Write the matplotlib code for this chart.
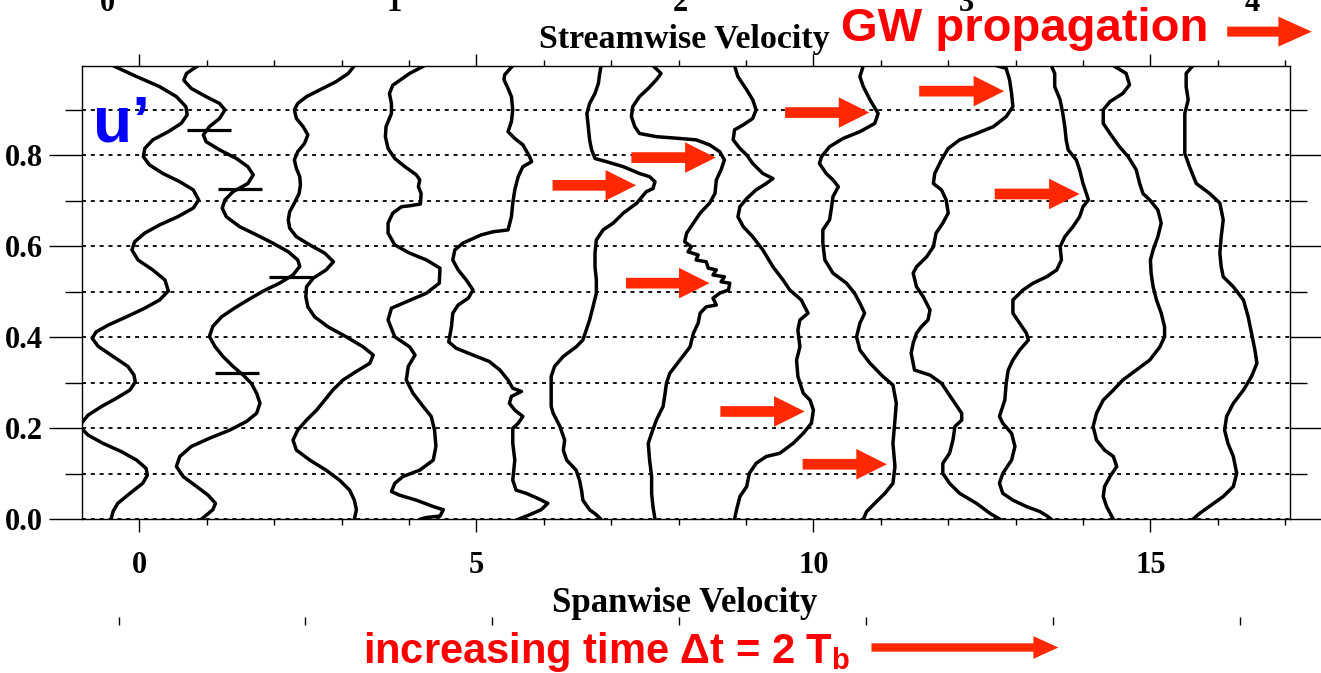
import numpy as np
import matplotlib
matplotlib.use("Agg")
import matplotlib.pyplot as plt
from matplotlib.ticker import MultipleLocator, FormatStrFormatter

plt.rcParams['font.family'] = ['Liberation Serif', 'DejaVu Serif']
plt.rcParams['font.weight'] = 'bold'
plt.rcParams['axes.labelweight'] = 'bold'
plt.rcParams['mathtext.fontset'] = 'custom'
plt.rcParams['mathtext.rm'] = 'Liberation Sans:bold'

# u' profiles, spanwise position vs height, one per output time
p1_x = [-0.39, -0.04, 0.30, 0.55, 0.69, 0.71, 0.62, 0.43, 0.20, 0.08, 0.06, 0.15, 0.35, 0.60, 0.80, 0.88, 0.80, 0.57,
        0.30, 0.08, -0.07, -0.11, -0.02, 0.20, 0.38, 0.43, 0.30, 0.08, -0.19, -0.46, -0.64, -0.70, -0.61, -0.39, -0.17,
        -0.08, -0.06, -0.14, -0.34, -0.56, -0.76, -0.86, -0.86, -0.76, -0.54, -0.27, -0.04, 0.10, 0.12, 0.05, -0.14,
        -0.32, -0.39, -0.42]
p1_y = [0.997, 0.973, 0.951, 0.929, 0.907, 0.889, 0.870, 0.852, 0.834, 0.815, 0.797, 0.779, 0.760, 0.742, 0.724, 0.702,
        0.684, 0.665, 0.647, 0.629, 0.610, 0.592, 0.570, 0.548, 0.526, 0.502, 0.482, 0.464, 0.445, 0.427, 0.412, 0.398,
        0.380, 0.358, 0.336, 0.317, 0.302, 0.284, 0.266, 0.248, 0.229, 0.211, 0.200, 0.185, 0.167, 0.149, 0.130, 0.112,
        0.097, 0.079, 0.057, 0.035, 0.017, 0.0]

p2_x = [0.87, 0.70, 0.66, 0.77, 0.99, 1.19, 1.27, 1.19, 1.04, 0.95, 0.99, 1.19, 1.44, 1.61, 1.69, 1.61, 1.39, 1.27,
        1.23, 1.29, 1.49, 1.74, 1.98, 2.21, 2.35, 2.38, 2.28, 2.08, 1.83, 1.61, 1.41, 1.22, 1.09, 1.04, 1.12, 1.24,
        1.39, 1.54, 1.66, 1.74, 1.79, 1.74, 1.59, 1.34, 1.04, 0.77, 0.60, 0.55, 0.65, 0.85, 1.02, 1.13, 1.09, 0.92]
p2_y = [0.997, 0.980, 0.965, 0.947, 0.929, 0.914, 0.900, 0.881, 0.863, 0.845, 0.830, 0.812, 0.793, 0.775, 0.757, 0.738,
        0.720, 0.702, 0.684, 0.665, 0.643, 0.625, 0.607, 0.588, 0.570, 0.556, 0.537, 0.519, 0.501, 0.482, 0.464, 0.445,
        0.424, 0.402, 0.380, 0.358, 0.336, 0.317, 0.299, 0.277, 0.255, 0.233, 0.215, 0.196, 0.178, 0.160, 0.138, 0.116,
        0.094, 0.072, 0.053, 0.035, 0.021, 0.0]

p3_x = [3.19, 3.10, 2.92, 2.68, 2.48, 2.35, 2.30, 2.33, 2.43, 2.50, 2.45, 2.35, 2.30, 2.33, 2.38, 2.39, 2.37, 2.30,
        2.23, 2.21, 2.23, 2.33, 2.53, 2.75, 2.88, 2.77, 2.58, 2.48, 2.47, 2.50, 2.60, 2.80, 3.07, 3.32, 3.47, 3.42,
        3.22, 3.02, 2.87, 2.75, 2.63, 2.48, 2.35, 2.28, 2.33, 2.53, 2.77, 2.97, 3.12, 3.19, 3.22, 3.19]
p3_y = [0.997, 0.980, 0.962, 0.944, 0.929, 0.914, 0.900, 0.881, 0.863, 0.845, 0.826, 0.808, 0.790, 0.771, 0.753, 0.735,
        0.716, 0.695, 0.676, 0.658, 0.640, 0.621, 0.603, 0.585, 0.566, 0.548, 0.530, 0.511, 0.489, 0.467, 0.445, 0.423,
        0.401, 0.379, 0.361, 0.343, 0.325, 0.306, 0.284, 0.262, 0.240, 0.218, 0.196, 0.174, 0.152, 0.130, 0.108, 0.086,
        0.064, 0.042, 0.021, 0.0]

p4_x = [4.23, 4.01, 3.76, 3.71, 3.74, 3.74, 3.66, 3.65, 3.69, 3.79, 3.94, 4.11, 4.16, 4.14, 4.18, 4.17, 4.01, 3.89,
        3.76, 3.69, 3.69, 3.79, 4.01, 4.26, 4.46, 4.45, 4.26, 3.96, 3.74, 3.69, 3.79, 4.01, 4.09, 3.99, 3.96, 4.06,
        4.21, 4.33, 4.38, 4.40, 4.36, 4.16, 3.91, 3.79, 3.74, 3.86, 4.11, 4.36, 4.51, 4.46, 4.26, 4.16]
p4_y = [0.997, 0.980, 0.954, 0.936, 0.914, 0.892, 0.863, 0.841, 0.815, 0.793, 0.775, 0.757, 0.746, 0.731, 0.716, 0.693,
        0.689, 0.687, 0.673, 0.651, 0.629, 0.603, 0.585, 0.570, 0.552, 0.519, 0.497, 0.478, 0.464, 0.438, 0.401, 0.379,
        0.361, 0.336, 0.306, 0.277, 0.248, 0.226, 0.196, 0.160, 0.130, 0.108, 0.094, 0.079, 0.061, 0.053, 0.042, 0.028,
        0.021, 0.007, 0.004, 0.0]

p5_x = [5.54, 5.42, 5.41, 5.47, 5.52, 5.54, 5.52, 5.47, 5.57, 5.69, 5.79, 5.82, 5.69, 5.62, 5.57, 5.54, 5.52, 5.47,
        5.25, 5.07, 4.80, 4.68, 4.65, 4.73, 4.85, 4.95, 4.88, 4.73, 4.65, 4.63, 4.59, 4.70, 4.95, 5.19, 5.35, 5.47,
        5.54, 5.67, 5.52, 5.49, 5.57, 5.69, 5.62, 5.54, 5.54, 5.57, 5.54, 5.59, 5.74, 5.91, 6.06, 5.96, 5.79, 5.62]
p5_y = [0.997, 0.977, 0.966, 0.947, 0.929, 0.900, 0.874, 0.852, 0.837, 0.823, 0.797, 0.786, 0.775, 0.753, 0.724, 0.695,
        0.665, 0.636, 0.632, 0.625, 0.607, 0.592, 0.570, 0.548, 0.526, 0.504, 0.486, 0.471, 0.453, 0.423, 0.390, 0.376,
        0.361, 0.347, 0.328, 0.306, 0.288, 0.281, 0.270, 0.255, 0.240, 0.226, 0.211, 0.200, 0.167, 0.130, 0.086, 0.064,
        0.057, 0.046, 0.035, 0.021, 0.010, 0.0]

p6_x = [6.85, 6.83, 6.81, 6.76, 6.68, 6.64, 6.66, 6.68, 6.71, 6.76, 6.93, 7.18, 7.42, 7.57, 7.65, 7.62, 7.52, 7.38,
        7.18, 7.03, 6.88, 6.78, 6.76, 6.76, 6.78, 6.78, 6.73, 6.68, 6.63, 6.58, 6.48, 6.29, 6.16, 6.11, 6.11, 6.11,
        6.14, 6.24, 6.31, 6.29, 6.34, 6.48, 6.53, 6.56, 6.58, 6.68, 6.78, 6.85]
p6_y = [0.997, 0.980, 0.958, 0.936, 0.914, 0.892, 0.863, 0.834, 0.812, 0.793, 0.786, 0.775, 0.760, 0.753, 0.742, 0.727,
        0.720, 0.695, 0.673, 0.651, 0.636, 0.614, 0.585, 0.555, 0.526, 0.497, 0.467, 0.438, 0.416, 0.394, 0.379, 0.358,
        0.336, 0.314, 0.284, 0.248, 0.233, 0.204, 0.174, 0.152, 0.130, 0.108, 0.086, 0.064, 0.042, 0.021, 0.010, 0.0]

p7_x = [7.62, 7.74, 7.67, 7.55, 7.42, 7.32, 7.30, 7.35, 7.42, 7.67, 8.02, 8.26, 8.46, 8.61, 8.68, 8.63, 8.56, 8.54,
        8.46, 8.32, 8.22, 8.12, 8.09, 8.19, 8.14, 8.29, 8.26, 8.41, 8.44, 8.56, 8.51, 8.68, 8.63, 8.76, 8.74, 8.61,
        8.51, 8.56, 8.41, 8.32, 8.29, 8.22, 8.17, 8.02, 7.87, 7.82, 7.80, 7.77, 7.67, 7.60, 7.55, 7.57, 7.60, 7.60,
        7.62, 7.65]
p7_y = [0.997, 0.980, 0.966, 0.947, 0.929, 0.907, 0.885, 0.863, 0.848, 0.841, 0.837, 0.834, 0.823, 0.808, 0.790, 0.768,
        0.746, 0.716, 0.695, 0.673, 0.651, 0.629, 0.610, 0.599, 0.588, 0.581, 0.570, 0.566, 0.552, 0.548, 0.537, 0.533,
        0.522, 0.519, 0.504, 0.497, 0.486, 0.471, 0.467, 0.453, 0.431, 0.409, 0.379, 0.350, 0.321, 0.299, 0.277, 0.248,
        0.218, 0.189, 0.167, 0.130, 0.094, 0.057, 0.028, 0.0]

p8_x = [8.83, 8.88, 9.01, 9.10, 9.15, 9.10, 8.96, 8.83, 8.81, 8.91, 9.01, 9.10, 9.25, 9.40, 9.30, 9.15, 9.01, 8.91,
        8.88, 8.96, 9.10, 9.25, 9.40, 9.55, 9.65, 9.82, 9.92, 9.80, 9.77, 9.80, 9.75, 9.77, 9.85, 9.95, 10.00, 9.97,
        9.85, 9.70, 9.50, 9.30, 9.15, 9.05, 9.01, 8.91, 8.86, 8.83]
p8_y = [0.997, 0.973, 0.944, 0.922, 0.900, 0.881, 0.867, 0.856, 0.834, 0.815, 0.801, 0.782, 0.760, 0.749, 0.738, 0.724,
        0.705, 0.687, 0.665, 0.643, 0.621, 0.592, 0.555, 0.526, 0.504, 0.482, 0.453, 0.438, 0.416, 0.379, 0.350, 0.314,
        0.277, 0.262, 0.240, 0.211, 0.189, 0.167, 0.145, 0.138, 0.123, 0.101, 0.072, 0.050, 0.021, 0.0]

p9_x = [10.74, 10.69, 10.74, 10.84, 10.96, 10.91, 10.69, 10.44, 10.24, 10.12, 10.09, 10.19, 10.29, 10.37, 10.29, 10.27,
        10.24, 10.14, 10.14, 10.17, 10.29, 10.49, 10.61, 10.69, 10.76, 10.69, 10.64, 10.69, 10.84, 11.03, 11.18, 11.23,
        11.21, 11.18, 11.21, 11.18, 11.06, 10.91, 10.79, 10.74]
p9_y = [0.997, 0.973, 0.951, 0.922, 0.892, 0.870, 0.852, 0.837, 0.819, 0.797, 0.782, 0.760, 0.746, 0.731, 0.709, 0.687,
        0.658, 0.636, 0.607, 0.570, 0.541, 0.519, 0.497, 0.475, 0.453, 0.431, 0.401, 0.372, 0.343, 0.314, 0.295, 0.255,
        0.218, 0.167, 0.116, 0.079, 0.057, 0.035, 0.017, 0.0]

p10_x = [12.72, 12.86, 12.91, 12.94, 12.96, 12.86, 12.67, 12.42, 12.17, 12.00, 11.90, 11.80, 11.78, 11.90, 11.97, 12.00,
         11.92, 11.82, 11.78, 11.68, 11.53, 11.48, 11.53, 11.63, 11.73, 11.70, 11.60, 11.53, 11.48, 11.45, 11.50, 11.73,
         11.90, 12.00, 12.10, 12.20, 12.20, 12.10, 12.07, 12.02, 11.92, 11.92, 12.02, 12.17, 12.42, 12.62, 12.77]
p10_y = [0.997, 0.991, 0.966, 0.936, 0.907, 0.885, 0.863, 0.848, 0.834, 0.815, 0.790, 0.760, 0.738, 0.724, 0.702, 0.673,
         0.651, 0.629, 0.599, 0.577, 0.555, 0.541, 0.511, 0.489, 0.460, 0.438, 0.423, 0.409, 0.387, 0.365, 0.328, 0.317,
         0.299, 0.277, 0.255, 0.233, 0.218, 0.204, 0.174, 0.145, 0.123, 0.101, 0.079, 0.057, 0.035, 0.013, 0.0]

p11_x = [13.53, 13.58, 13.58, 13.66, 13.70, 13.73, 13.75, 13.78, 13.90, 13.95, 14.00, 14.05, 14.08, 14.00, 13.95, 13.85,
         13.73, 13.66, 13.68, 13.61, 13.46, 13.26, 13.11, 12.96, 12.96, 13.06, 13.16, 13.19, 13.06, 12.96, 12.89, 12.86,
         12.84, 12.76, 12.81, 12.94, 12.99, 12.94, 12.81, 12.76, 12.81, 12.96, 13.16, 13.36, 13.48, 13.53]
p11_y = [0.997, 0.980, 0.951, 0.922, 0.892, 0.863, 0.834, 0.812, 0.790, 0.768, 0.738, 0.716, 0.702, 0.687, 0.665, 0.643,
         0.621, 0.599, 0.570, 0.548, 0.533, 0.519, 0.504, 0.482, 0.453, 0.431, 0.409, 0.394, 0.372, 0.350, 0.328, 0.299,
         0.262, 0.226, 0.211, 0.189, 0.160, 0.130, 0.101, 0.079, 0.057, 0.042, 0.028, 0.017, 0.006, 0.0]

p12_x = [14.45, 14.64, 14.69, 14.59, 14.40, 14.30, 14.30, 14.40, 14.54, 14.67, 14.79, 14.84, 14.89, 14.99, 15.11, 15.16,
         15.11, 15.04, 15.00, 15.01, 15.04, 15.09, 15.16, 15.21, 15.21, 15.14, 14.99, 14.79, 14.59, 14.45, 14.30, 14.20,
         14.15, 14.20, 14.32, 14.45, 14.50, 14.40, 14.32, 14.30, 14.35, 14.45]
p12_y = [0.997, 0.980, 0.955, 0.936, 0.918, 0.900, 0.870, 0.848, 0.819, 0.797, 0.768, 0.738, 0.716, 0.702, 0.680, 0.651,
         0.621, 0.592, 0.570, 0.541, 0.511, 0.482, 0.453, 0.423, 0.401, 0.379, 0.350, 0.328, 0.306, 0.284, 0.262, 0.233,
         0.204, 0.174, 0.152, 0.138, 0.116, 0.094, 0.072, 0.050, 0.028, 0.0]

p13_x = [15.63, 15.53, 15.53, 15.56, 15.51, 15.51, 15.51, 15.51, 15.58, 15.68, 15.88, 16.03, 16.08, 16.05, 16.03, 16.05,
         16.08, 16.23, 16.38, 16.45, 16.50, 16.55, 16.58, 16.50, 16.38, 16.23, 16.13, 16.10, 16.15, 16.23, 16.28, 16.23,
         16.08, 15.90, 15.73, 15.63]
p13_y = [0.997, 0.980, 0.951, 0.922, 0.892, 0.863, 0.834, 0.804, 0.775, 0.738, 0.716, 0.695, 0.658, 0.621, 0.585, 0.555,
         0.533, 0.511, 0.482, 0.445, 0.409, 0.372, 0.343, 0.314, 0.284, 0.255, 0.226, 0.196, 0.167, 0.138, 0.101, 0.072,
         0.050, 0.031, 0.013, 0.0]

# wavelength markers on the second profile
mark_y = [0.856, 0.725, 0.533, 0.321]
mark_x = [1.03, 1.49, 2.25, 1.45]

# red arrows pointing at the wave crests: tail x, tip x, height
crest_tail = [6.13, 7.30, 7.22, 9.58, 11.57, 12.69, 8.62, 9.84]
crest_tip = [7.37, 8.55, 8.46, 10.83, 12.83, 13.95, 9.87, 11.09]
crest_h = [0.734, 0.795, 0.519, 0.894, 0.941, 0.715, 0.237, 0.121]

span_ticks = [0, 5, 10, 15]
height_ticks = [0.0, 0.2, 0.4, 0.6, 0.8]
stream_ticks = [0, 1, 2, 3, 4]

profiles = [(p1_x, p1_y), (p2_x, p2_y), (p3_x, p3_y), (p4_x, p4_y), (p5_x, p5_y), (p6_x, p6_y), (p7_x, p7_y),
            (p8_x, p8_y), (p9_x, p9_y), (p10_x, p10_y), (p11_x, p11_y), (p12_x, p12_y), (p13_x, p13_y)]

ARROW_RED = '#ff2800'

fig = plt.figure(figsize=(13.21, 6.73), dpi=100)
ax = fig.add_axes([0.0618, 0.2284, 0.9147, 0.674])

for xs, ys in profiles:
    ax.plot(xs, ys, color='black', lw=2.5, solid_joinstyle='round', solid_capstyle='round', zorder=3)

mark_x = np.array(mark_x)
ax.hlines(mark_y, mark_x - 0.325, mark_x + 0.325, color='black', lw=2.3, zorder=3)

ax.set_xlim(-0.856, 17.07)
ax.set_ylim(0.0, 0.997)

ax.set_xticks(span_ticks)
ax.xaxis.set_minor_locator(MultipleLocator(1))
ax.set_yticks(height_ticks)
ax.yaxis.set_minor_locator(MultipleLocator(0.1))
ax.yaxis.set_major_formatter(FormatStrFormatter('%.1f'))

ax.tick_params(axis='x', which='major', direction='out', length=9, width=1, top=True, bottom=True,
               labelsize=22, pad=14)
ax.tick_params(axis='x', which='minor', direction='out', length=4, width=1, top=True, bottom=True)
ax.tick_params(axis='y', which='major', direction='out', length=24, width=1, left=True, right=True,
               labelsize=22, pad=4)
ax.tick_params(axis='y', which='minor', direction='out', length=12, width=1, left=True, right=True)
for s in ax.spines.values():
    s.set_linewidth(1.0)

ax.grid(True, axis='y', which='both', color='black', linestyle=(0, (2.2, 2.7)), linewidth=1.3, zorder=1)
ax.set_axisbelow(True)

# streamwise velocity scale along the top
def span_to_stream(s):
    return (31.4 + 67.4 * np.asarray(s)) / 286.0

def stream_to_span(v):
    return (286.0 * np.asarray(v) - 31.4) / 67.4

top = ax.secondary_xaxis('top', functions=(span_to_stream, stream_to_span))
top.set_xticks(stream_ticks)
top.tick_params(length=0, pad=34, labelsize=22)
top.spines['top'].set_visible(False)

# unlabelled tick row below the spanwise label
def span_to_row(s):
    return (20.7 + 67.4 * np.asarray(s)) / 186.8

def row_to_span(v):
    return (186.8 * np.asarray(v) - 20.7) / 67.4

low = ax.secondary_xaxis(-0.233, functions=(span_to_row, row_to_span))
low.set_xticks(range(7))
low.tick_params(direction='in', length=6, width=1, labelbottom=False)
low.spines['bottom'].set_visible(False)

ax.text(0.4989, 1.039, 'Streamwise Velocity', transform=ax.transAxes, ha='center', va='baseline',
        fontsize=24.5, fontweight='bold')
ax.set_xlabel('Spanwise Velocity', fontsize=25, fontweight='bold', va='baseline')
ax.xaxis.set_label_coords(0.499, -0.2033)

ax.text(0.0095, 0.8325, 'u\u2019', transform=ax.transAxes, color='#0000ff', fontsize=46,
        family='Liberation Sans', weight='bold', va='baseline', zorder=5)

# crest arrows
for x0, x1, h in zip(crest_tail, crest_tip, crest_h):
    ax.annotate('', xy=(x1, h), xytext=(x0, h),
                arrowprops=dict(arrowstyle='simple,head_length=22,head_width=22,tail_width=7.7',
                                mutation_scale=1, fc=ARROW_RED, ec='none', lw=0, shrinkA=0, shrinkB=0),
                zorder=6)

fig.text(0.637, 0.939, 'GW propagation', color='#ff0000', fontsize=34, family='Liberation Sans',
         weight='bold', va='baseline')
ax.annotate('', xy=(0.993, 0.953), xytext=(0.929, 0.953), xycoords='figure fraction',
            textcoords='figure fraction', annotation_clip=False,
            arrowprops=dict(arrowstyle='simple,head_length=24,head_width=21.6,tail_width=7.2',
                            mutation_scale=1, fc=ARROW_RED, ec='none', lw=0, shrinkA=0, shrinkB=0))

fig.text(0.2745, 0.0149, 'increasing time \u0394t = 2 $\\mathregular{T_b}$', color='#ff0000', fontsize=30,
         family='Liberation Sans', weight='bold', va='baseline')
ax.annotate('', xy=(0.8012, 0.0379), xytext=(0.6597, 0.0379), xycoords='figure fraction',
            textcoords='figure fraction', annotation_clip=False,
            arrowprops=dict(arrowstyle='simple,head_length=18,head_width=16.3,tail_width=6',
                            mutation_scale=1, fc=ARROW_RED, ec='none', lw=0, shrinkA=0, shrinkB=0))

fig.savefig('out.png', dpi=100, facecolor='white')
